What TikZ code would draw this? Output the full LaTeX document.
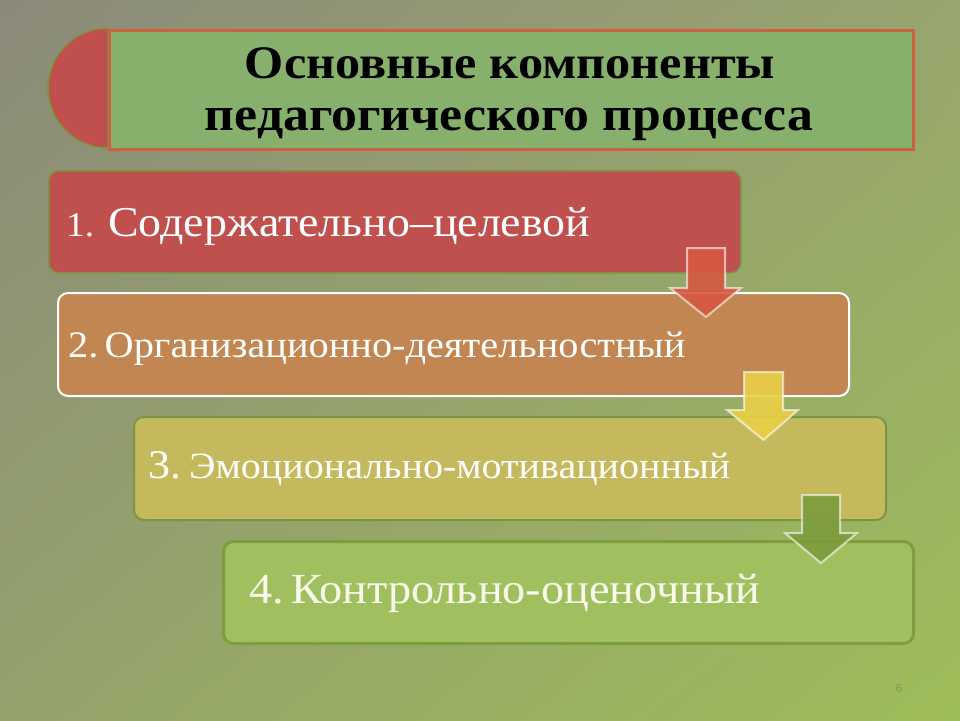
\documentclass[tikz,border=0pt]{standalone}
\usepackage{fontspec}
\setmainfont{Liberation Serif}[FakeStretch=1.08]
\newfontfamily\pgsans{Liberation Sans}
\usepackage{graphicx}
\usetikzlibrary{shadings}
\definecolor{bgA}{RGB}{139,138,122}
\definecolor{bgB}{RGB}{152,165,110}
\definecolor{bgC}{RGB}{148,162,108}
\definecolor{bgD}{RGB}{157,189,88}
\definecolor{redF}{RGB}{192,80,77}
\definecolor{olEdge}{RGB}{122,150,62}
\definecolor{titleG}{RGB}{134,176,107}
\definecolor{titleE}{RGB}{204,96,64}
\definecolor{orF}{RGB}{193,134,82}
\definecolor{yeF}{RGB}{196,185,92}
\definecolor{grF}{RGB}{160,192,96}
\definecolor{grE}{RGB}{126,156,64}
\definecolor{arR}{RGB}{214,88,66}
\definecolor{arY}{RGB}{234,208,70}
\definecolor{arG}{RGB}{124,156,60}
\definecolor{pgG}{RGB}{130,150,100}
\begin{document}
\begin{tikzpicture}[x=1pt,y=-1pt,
  boxshape/.style={rounded corners=10pt, anchor=north west, inner sep=0pt},
  txt/.style={anchor=base west, inner sep=0pt, text=white},
  ttl/.style={anchor=base, inner sep=0pt, text=black},
  blk/.style={line width=2pt, draw=white, draw opacity=0.6, fill opacity=0.9, line join=miter}]
\useasboundingbox (0,0) rectangle (960,720);
\shade[upper left=bgA, upper right=bgB, lower left=bgC, lower right=bgD] (0,0) rectangle (960,720);
% title
\filldraw[fill=redF, draw=olEdge, line width=1.5pt] (108,28) arc[start angle=270, end angle=90, radius=60] -- cycle;
\node[draw=titleE, line width=3pt, fill=titleG, minimum width=804pt, minimum height=119pt, anchor=north west, inner sep=0pt] (title) at (108,29) {};
\node[ttl] (title1) at (510,78) {\resizebox{530pt}{!}{\bfseries Основные компоненты}};
\node[ttl] (title2) at (509,130) {\resizebox{608pt}{!}{\bfseries педагогического процесса}};
% boxes
\node[boxshape, fill=redF, draw=olEdge, line width=1.5pt, minimum width=692pt, minimum height=102pt] (b1) at (48,170) {};
\node[boxshape, fill=orF, draw=white, line width=2pt, minimum width=791pt, minimum height=103pt] (b2) at (57,292) {};
\node[boxshape, fill=yeF, draw=olEdge, line width=2pt, minimum width=752pt, minimum height=103pt] (b3) at (133,416) {};
\node[boxshape, fill=grF, draw=grE, line width=3pt, minimum width=690pt, minimum height=102pt] (b4) at (222,540) {};
% arrows
\draw[blk, fill=arR] (687,248) -- (725,248) -- (725,288) -- (741,288) -- (706,317) -- (670,288) -- (687,288) -- cycle;
\draw[blk, fill=arY] (744,372) -- (783,372) -- (783,410) -- (798,410) -- (763.5,440) -- (727,410) -- (744,410) -- cycle;
\draw[blk, fill=arG] (802,495) -- (840,495) -- (840,533) -- (857,533) -- (821,563) -- (785,533) -- (802,533) -- cycle;
% texts
\node[txt] (t1n) at (66,236) {\resizebox{28pt}{!}{1.}};
\node[txt] (t1) at (108,236) {\resizebox{482pt}{!}{Содержательно–целевой}};
\node[txt] (t2) at (68,357) {\resizebox{617pt}{!}{2.\,Организационно-деятельностный}};
\node[txt] (t3n) at (148,478) {\resizebox{33pt}{!}{3.}};
\node[txt] (t3) at (189,478) {\resizebox{541pt}{!}{Эмоционально-мотивационный}};
\node[txt, text={rgb,255:red,250;green,250;blue,235}] (t4) at (249,603) {\resizebox{511pt}{!}{4.\,Контрольно-оценочный}};
\node[text=pgG, inner sep=0pt] (pg) at (899,688) {\pgsans\fontsize{12}{12}\selectfont 6};
\end{tikzpicture}
\end{document}
